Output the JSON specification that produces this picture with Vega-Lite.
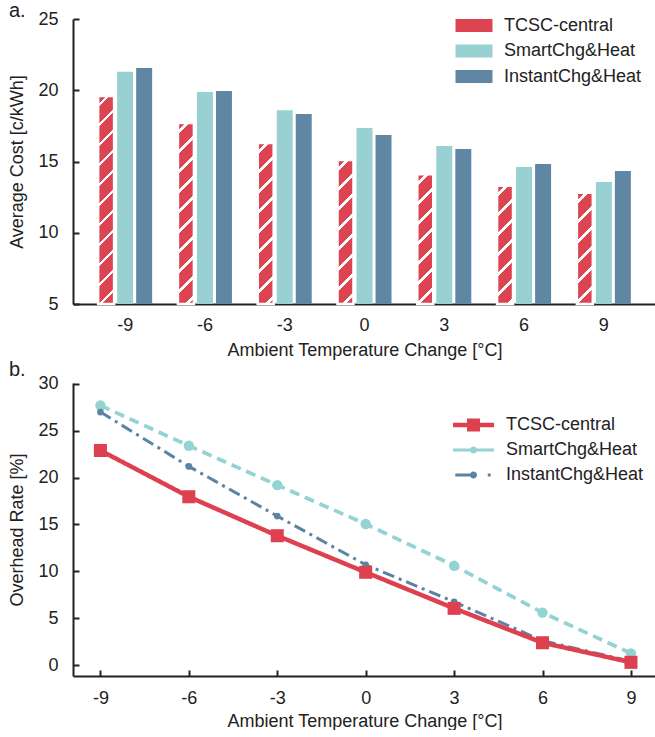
{
  "$schema": "https://vega.github.io/schema/vega-lite/v6.json",
  "padding": {"left": 8, "top": 1, "right": 0, "bottom": 0},
  "params": [
    {"name": "hatch", "value": [
      {"offset": 0, "color": "#dc4452"},
      {"offset": 0.03333, "color": "#dc4452"}, {"offset": 0.03333, "color": "#ffffff"}, {"offset": 0.04792, "color": "#ffffff"}, {"offset": 0.04792, "color": "#dc4452"},
      {"offset": 0.11667, "color": "#dc4452"}, {"offset": 0.11667, "color": "#ffffff"}, {"offset": 0.13125, "color": "#ffffff"}, {"offset": 0.13125, "color": "#dc4452"},
      {"offset": 0.2, "color": "#dc4452"}, {"offset": 0.2, "color": "#ffffff"}, {"offset": 0.21458, "color": "#ffffff"}, {"offset": 0.21458, "color": "#dc4452"},
      {"offset": 0.28333, "color": "#dc4452"}, {"offset": 0.28333, "color": "#ffffff"}, {"offset": 0.29792, "color": "#ffffff"}, {"offset": 0.29792, "color": "#dc4452"},
      {"offset": 0.36667, "color": "#dc4452"}, {"offset": 0.36667, "color": "#ffffff"}, {"offset": 0.38125, "color": "#ffffff"}, {"offset": 0.38125, "color": "#dc4452"},
      {"offset": 0.45, "color": "#dc4452"}, {"offset": 0.45, "color": "#ffffff"}, {"offset": 0.46458, "color": "#ffffff"}, {"offset": 0.46458, "color": "#dc4452"},
      {"offset": 0.53333, "color": "#dc4452"}, {"offset": 0.53333, "color": "#ffffff"}, {"offset": 0.54792, "color": "#ffffff"}, {"offset": 0.54792, "color": "#dc4452"},
      {"offset": 0.61667, "color": "#dc4452"}, {"offset": 0.61667, "color": "#ffffff"}, {"offset": 0.63125, "color": "#ffffff"}, {"offset": 0.63125, "color": "#dc4452"},
      {"offset": 0.7, "color": "#dc4452"}, {"offset": 0.7, "color": "#ffffff"}, {"offset": 0.71458, "color": "#ffffff"}, {"offset": 0.71458, "color": "#dc4452"},
      {"offset": 0.78333, "color": "#dc4452"}, {"offset": 0.78333, "color": "#ffffff"}, {"offset": 0.79792, "color": "#ffffff"}, {"offset": 0.79792, "color": "#dc4452"},
      {"offset": 0.86667, "color": "#dc4452"}, {"offset": 0.86667, "color": "#ffffff"}, {"offset": 0.88125, "color": "#ffffff"}, {"offset": 0.88125, "color": "#dc4452"},
      {"offset": 0.95, "color": "#dc4452"}, {"offset": 0.95, "color": "#ffffff"}, {"offset": 0.96458, "color": "#ffffff"}, {"offset": 0.96458, "color": "#dc4452"},
      {"offset": 1, "color": "#dc4452"}
    ]}
  ],
  "datasets": {
    "costs": [
      {"temp": -9, "series": "TCSC-central", "cost": 19.6},
      {"temp": -9, "series": "SmartChg&Heat", "cost": 21.3},
      {"temp": -9, "series": "InstantChg&Heat", "cost": 21.56},
      {"temp": -6, "series": "TCSC-central", "cost": 17.7},
      {"temp": -6, "series": "SmartChg&Heat", "cost": 19.88},
      {"temp": -6, "series": "InstantChg&Heat", "cost": 19.95},
      {"temp": -3, "series": "TCSC-central", "cost": 16.3},
      {"temp": -3, "series": "SmartChg&Heat", "cost": 18.6},
      {"temp": -3, "series": "InstantChg&Heat", "cost": 18.33},
      {"temp": 0, "series": "TCSC-central", "cost": 15.1},
      {"temp": 0, "series": "SmartChg&Heat", "cost": 17.35},
      {"temp": 0, "series": "InstantChg&Heat", "cost": 16.86},
      {"temp": 3, "series": "TCSC-central", "cost": 14.1},
      {"temp": 3, "series": "SmartChg&Heat", "cost": 16.09},
      {"temp": 3, "series": "InstantChg&Heat", "cost": 15.88},
      {"temp": 6, "series": "TCSC-central", "cost": 13.3},
      {"temp": 6, "series": "SmartChg&Heat", "cost": 14.61},
      {"temp": 6, "series": "InstantChg&Heat", "cost": 14.82},
      {"temp": 9, "series": "TCSC-central", "cost": 12.8},
      {"temp": 9, "series": "SmartChg&Heat", "cost": 13.56},
      {"temp": 9, "series": "InstantChg&Heat", "cost": 14.33}
    ],
    "rates": [
      {"temp": -9, "series": "SmartChg&Heat", "rate": 27.7},
      {"temp": -6, "series": "SmartChg&Heat", "rate": 23.4},
      {"temp": -3, "series": "SmartChg&Heat", "rate": 19.2},
      {"temp": 0, "series": "SmartChg&Heat", "rate": 15.05},
      {"temp": 3, "series": "SmartChg&Heat", "rate": 10.6},
      {"temp": 6, "series": "SmartChg&Heat", "rate": 5.6},
      {"temp": 9, "series": "SmartChg&Heat", "rate": 1.25},
      {"temp": -9, "series": "InstantChg&Heat", "rate": 27.0},
      {"temp": -6, "series": "InstantChg&Heat", "rate": 21.2},
      {"temp": -3, "series": "InstantChg&Heat", "rate": 15.9},
      {"temp": 0, "series": "InstantChg&Heat", "rate": 10.7},
      {"temp": 3, "series": "InstantChg&Heat", "rate": 6.75},
      {"temp": 6, "series": "InstantChg&Heat", "rate": 2.6},
      {"temp": 9, "series": "InstantChg&Heat", "rate": 0.4},
      {"temp": -9, "series": "TCSC-central", "rate": 22.9},
      {"temp": -6, "series": "TCSC-central", "rate": 17.96},
      {"temp": -3, "series": "TCSC-central", "rate": 13.8},
      {"temp": 0, "series": "TCSC-central", "rate": 9.9},
      {"temp": 3, "series": "TCSC-central", "rate": 6.05},
      {"temp": 6, "series": "TCSC-central", "rate": 2.38},
      {"temp": 9, "series": "TCSC-central", "rate": 0.29}
    ]
  },
  "vconcat": [
    {
      "width": 583,
      "height": 285,
      "title": {"text": "a.", "anchor": "start", "frame": "group", "fontSize": 20, "fontWeight": "normal", "color": "#222222", "dx": -64, "offset": -27, "baseline": "alphabetic"},
      "data": {"name": "costs"},
      "encoding": {
        "x": {"field": "temp", "type": "ordinal",
          "scale": {"domain": [-9, -6, -3, 0, 3, 6, 9], "paddingInner": 0.323, "paddingOuter": 0.315, "round": false},
          "axis": {"title": "Ambient Temperature Change [°C]", "labelAngle": 0, "labelPadding": 18, "titlePadding": 7}},
        "xOffset": {"field": "series", "type": "nominal",
          "scale": {"domain": ["TCSC-central", "SmartChg&Heat", "InstantChg&Heat"], "paddingInner": 0.16, "paddingOuter": 0}},
        "y": {"field": "cost", "type": "quantitative",
          "scale": {"domain": [5, 25], "nice": false, "zero": false},
          "axis": {"values": [5, 10, 15, 20, 25], "title": "Average Cost [c/kWh]", "labelPadding": 21, "titlePadding": 11}},
        "y2": {"datum": 5}
      },
      "layer": [
        {
          "mark": {"type": "bar"},
          "encoding": {
            "color": {"field": "series", "type": "nominal",
              "scale": {"domain": ["TCSC-central", "SmartChg&Heat", "InstantChg&Heat"], "range": ["#dc4452", "#99d0d2", "#5f86a2"]},
              "legend": {"orient": "none", "legendX": 392, "legendY": -2.5, "title": null, "padding": 0,
                "symbolSize": 169, "symbolType": "M-2.846,-1H2.846V1H-2.846Z", "symbolStrokeWidth": 0,
                "labelFontSize": 18, "labelColor": "#222222", "labelOffset": 21, "rowPadding": 7.5,
                "encode": {"symbols": {"update": {
                  "fill": {"signal": "datum.value === 'TCSC-central' ? {gradient: 'linear', x1: 0, y1: 0, x2: 5.774, y2: 2.029, stops: hatch} : (datum.value === 'SmartChg&Heat' ? '#99d0d2' : '#5f86a2')"},
                  "stroke": {"value": "transparent"},
                  "opacity": {"value": 1}}}}}}
          }
        },
        {
          "transform": [{"filter": "datum.series === 'TCSC-central'"}],
          "mark": {"type": "bar", "stroke": "#ffffff", "strokeWidth": 2.5,
            "fill": {"expr": "{gradient: 'linear', x1: 0, y1: 0, x2: 3840 / (256 + pow((datum.cost - 5) * 14.25, 2)), y2: 240 * (datum.cost - 5) * 14.25 / (256 + pow((datum.cost - 5) * 14.25, 2)), stops: hatch}"}}
        }
      ]
    },
    {
      "width": 583,
      "height": 293,
      "title": {"text": "b.", "anchor": "start", "frame": "group", "fontSize": 20, "fontWeight": "normal", "color": "#222222", "dx": -64, "offset": -21, "baseline": "alphabetic"},
      "data": {"name": "rates"},
      "encoding": {
        "x": {"field": "temp", "type": "quantitative",
          "scale": {"domain": [-9.93, 9.85], "nice": false, "zero": false},
          "axis": {"values": [-9, -6, -3, 0, 3, 6, 9], "labelExpr": "'' + datum.value", "title": "Ambient Temperature Change [°C]", "labelPadding": 19, "titlePadding": 5}},
        "y": {"field": "rate", "type": "quantitative",
          "scale": {"domain": [-1.17, 30.1], "nice": false, "zero": false},
          "axis": {"values": [0, 5, 10, 15, 20, 25, 30], "title": "Overhead Rate [%]", "labelPadding": 21, "titlePadding": 11}},
        "color": {"field": "series", "type": "nominal",
          "scale": {"domain": ["TCSC-central", "SmartChg&Heat", "InstantChg&Heat"], "range": ["#dd4150", "#93d3d2", "#5a84a2"]},
          "legend": {"orient": "none", "legendX": 391.5, "legendY": 33, "title": null, "padding": 0,
            "symbolSize": 169, "symbolStrokeWidth": 0,
            "labelFontSize": 18, "labelColor": "#222222", "labelOffset": 23.5, "rowPadding": 7,
            "encode": {"symbols": {"update": {
              "shape": {"signal": "datum.value === 'TCSC-central' ? 'M-3.154,-0.33H3.154V0.33H-3.154Z M-1,-1H1V1H-1Z' : (datum.value === 'SmartChg&Heat' ? 'M-3.154,-0.23H3.154V0.23H-3.154Z M0.54,0A0.54,0.54 0 1 1 -0.54,0A0.54,0.54 0 1 1 0.54,0Z' : 'M-2.8,-0.23H0V0.23H-2.8Z M0.54,0A0.54,0.54 0 1 1 -0.54,0A0.54,0.54 0 1 1 0.54,0Z M2.2,-0.23H2.65V0.23H2.2Z')"},
              "fill": {"signal": "datum.value === 'TCSC-central' ? '#dd4150' : (datum.value === 'SmartChg&Heat' ? '#93d3d2' : '#5a84a2')"},
              "stroke": {"value": "transparent"},
              "strokeDash": {"value": [1, 0]},
              "opacity": {"value": 1}}}}}}
      },
      "layer": [
        {
          "mark": {"type": "line"},
          "encoding": {
            "strokeDash": {"field": "series", "type": "nominal",
              "scale": {"domain": ["TCSC-central", "SmartChg&Heat", "InstantChg&Heat"], "range": [[1, 0], [10, 6], [12, 5, 3, 5]]}, "legend": null},
            "strokeWidth": {"field": "series", "type": "ordinal",
              "scale": {"domain": ["TCSC-central", "SmartChg&Heat", "InstantChg&Heat"], "range": [4.5, 3, 3]}, "legend": null}
          }
        },
        {
          "mark": {"type": "point", "filled": true, "opacity": 1},
          "encoding": {
            "shape": {"field": "series", "type": "nominal",
              "scale": {"domain": ["TCSC-central", "SmartChg&Heat", "InstantChg&Heat"], "range": ["square", "circle", "circle"]}, "legend": null},
            "size": {"field": "series", "type": "ordinal",
              "scale": {"domain": ["TCSC-central", "SmartChg&Heat", "InstantChg&Heat"], "range": [170, 45, 45]}, "legend": null}
          }
        }
      ]
    }
  ],
  "spacing": 0,
  "resolve": {"scale": {"color": "independent"}, "legend": {"color": "independent"}},
  "config": {
    "view": {"stroke": null},
    "font": "Liberation Sans",
    "axis": {"domainColor": "#222222", "domainWidth": 2, "tickColor": "#222222", "tickWidth": 2, "tickSize": -6,
      "labelFontSize": 18, "labelColor": "#222222", "titleFontSize": 18, "titleFontWeight": "normal", "titleColor": "#222222", "grid": false}
  }
}
